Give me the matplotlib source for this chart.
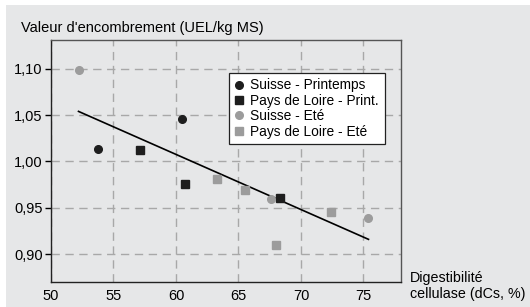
import matplotlib
matplotlib.use("Agg")
import matplotlib.pyplot as plt
from matplotlib.patches import Rectangle

plt.rcParams['font.family'] = ['Liberation Sans', 'DejaVu Sans']

# data
sp_x = [53.8, 60.5]                       # Suisse - Printemps
sp_y = [1.013, 1.046]
pp_x = [57.1, 60.7, 68.3]                 # Pays de Loire - Print.
pp_y = [1.012, 0.976, 0.961]
se_x = [52.2, 67.6, 75.4]                 # Suisse - Eté
se_y = [1.099, 0.959, 0.939]
pe_x = [63.3, 65.5, 68.0, 72.4]           # Pays de Loire - Eté
pe_y = [0.981, 0.969, 0.910, 0.945]
trend_x = [52.2, 75.4]
trend_y = [1.054, 0.916]

xticks = [50, 55, 60, 65, 70, 75]
yticks = [0.90, 0.95, 1.00, 1.05, 1.10]
ytick_labels = ["0,90", "0,95", "1,00", "1,05", "1,10"]

BG = "#e6e7e8"
DARK = "#1e1e1e"
GREY = "#9c9c9c"

fig = plt.figure(figsize=(5.3, 3.07), dpi=100)
fig.patches.append(Rectangle((6 / 530, 0), 1, 1 - 5 / 307, transform=fig.transFigure,
                             facecolor=BG, edgecolor="none", zorder=-10))
ax = fig.add_axes([51 / 530, 1 - 282 / 307, 350 / 530, 242 / 307])
ax.set_facecolor(BG)

ax.plot(trend_x, trend_y, color="black", lw=1.2, zorder=3)
ms = 5.5
ax.plot(sp_x, sp_y, "o", color=DARK, ms=ms, label="Suisse - Printemps", zorder=4)
ax.plot(pp_x, pp_y, "s", color=DARK, ms=ms, label="Pays de Loire - Print.", zorder=4)
ax.plot(se_x, se_y, "o", color=GREY, ms=ms, label="Suisse - Eté", zorder=4)
ax.plot(pe_x, pe_y, "s", color=GREY, ms=ms, label="Pays de Loire - Eté", zorder=4)

ax.set_xlim(50, 78)
ax.set_ylim(0.87, 1.131)
ax.set_xticks(xticks)
ax.set_yticks(yticks)
ax.set_yticklabels(ytick_labels)
ax.tick_params(axis="x", length=0, pad=5, labelsize=10.5)
ax.tick_params(axis="y", length=4, width=1, pad=2, labelsize=10.5)
ax.grid(True, color="#a8a8a8", lw=1, linestyle=(0, (6, 4)))
ax.set_axisbelow(True)
for side in ["left", "bottom"]:
    ax.spines[side].set_color("#222222")
    ax.spines[side].set_linewidth(1)
for side in ["top", "right"]:
    ax.spines[side].set_color("#555555")
    ax.spines[side].set_linewidth(1)

leg = ax.legend(loc="upper left", bbox_to_anchor=(0.509, 0.864), borderaxespad=0,
                fontsize=9.9, fancybox=False, frameon=True, handlelength=0.7,
                handletextpad=0.45, labelspacing=0.1, borderpad=0.4)
leg.get_frame().set_edgecolor("#222222")
leg.get_frame().set_linewidth(0.9)
leg.get_frame().set_facecolor("white")
leg.get_frame().set_alpha(1)

fig.text(21 / 530, 1 - 32 / 307, "Valeur d'encombrement (UEL/kg MS)",
         fontsize=10.5, va="baseline", ha="left")
fig.text(410 / 530, 1 - 282 / 307, "Digestibilité", fontsize=10.3,
         va="baseline", ha="left")
fig.text(410 / 530, 1 - 298 / 307, "cellulase (dCs, %)", fontsize=10.3,
         va="baseline", ha="left")

fig.savefig("out.png", dpi=100)
